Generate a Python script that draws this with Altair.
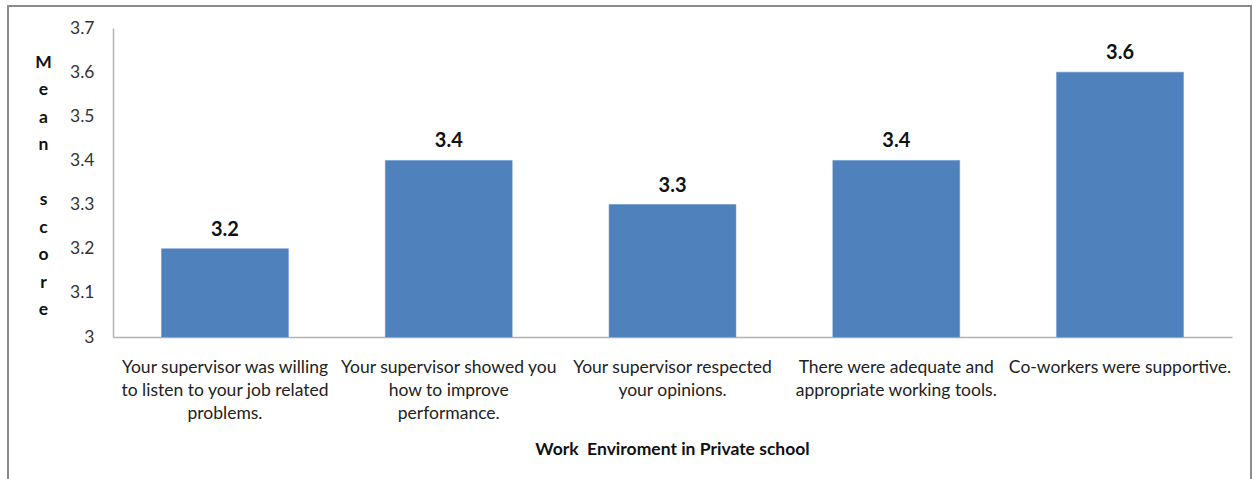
import altair as alt
import pandas as pd

categories = [
    "Your supervisor was willing\nto listen to your job related\nproblems.",
    "Your supervisor showed you\nhow to improve\nperformance.",
    "Your supervisor respected\nyour opinions.",
    "There were adequate and\nappropriate working tools.",
    "Co-workers were supportive.",
]
values = [3.2, 3.4, 3.3, 3.4, 3.6]
value_labels = ["3.2", "3.4", "3.3", "3.4", "3.6"]
y_ticks = [3.0, 3.1, 3.2, 3.3, 3.4, 3.5, 3.6, 3.7]
y_title = ["M", "e", "a", "n", "\u2800", "s", "c", "o", "r", "e"]
x_title = "Work\u00a0 Enviroment in Private school"

df = pd.DataFrame({"cat": categories, "val": values, "lab": value_labels})

FONT = "Lato"
FS = 17.5
W, H = 1119, 309

x_enc = alt.X(
    "cat:N",
    sort=categories,
    scale=alt.Scale(paddingInner=0.433, paddingOuter=0.217),
    axis=alt.Axis(
        title=x_title,
        labelExpr="split(datum.label, '\\n')",
        labelAngle=0,
        labelFont=FONT,
        labelFontSize=FS,
        labelColor="#222222",
        labelLineHeight=23,
        labelPadding=21,
        labelBaseline="top",
        labelLimit=300,
        ticks=False,
        domainColor="#b3b3b3",
        domainWidth=1.5,
        titleFont=FONT,
        titleFontSize=FS,
        titleFontWeight="bold",
        titleColor="#111111",
        titleX=559,
        titleY=112,
        titleAlign="center",
        titleBaseline="middle",
    ),
)

y_enc = alt.Y(
    "val:Q",
    scale=alt.Scale(domain=[3, 3.7], nice=False, zero=False),
    axis=alt.Axis(
        values=y_ticks,
        format="~g",
        title=y_title,
        titleAngle=0,
        titleX=-70,
        titleY=25,
        titleAlign="center",
        titleBaseline="top",
        titleLineHeight=27.5,
        titleFont=FONT,
        titleFontSize=FS,
        titleFontWeight="bold",
        titleColor="#111111",
        labelFont=FONT,
        labelFontSize=FS,
        labelColor="#333333",
        labelPadding=19,
        ticks=False,
        grid=False,
        domainColor="#b3b3b3",
        domainWidth=1.5,
    ),
)

bars = alt.Chart(df).mark_bar(color="#4F81BD", stroke="#5a8ac6", strokeWidth=0.5).encode(
    x=x_enc, y=y_enc, y2=alt.datum(3)
)

texts = alt.Chart(df).mark_text(
    font=FONT, fontSize=20, fontWeight="bold", color="#111111", baseline="alphabetic", dy=-13
).encode(x=alt.X("cat:N", sort=categories), y="val:Q", text="lab:N")

frame = alt.Chart(alt.Data(values=[{}])).mark_rect(
    fill="transparent", stroke="#8c8c8c", strokeWidth=2
).encode(
    x=alt.value(-105), x2=alt.value(1138), y=alt.value(-22), y2=alt.value(480)
)

chart = (
    alt.layer(frame, bars, texts)
    .properties(
        width=W,
        height=H,
        background="white",
        autosize=alt.AutoSizeParams(type="none"),
        padding={"left": 113, "top": 28, "right": 21, "bottom": 142},
    )
    .configure_view(strokeWidth=0, stroke="transparent")
)

chart.save("out.html", embed_options={"renderer": "svg", "actions": False})
